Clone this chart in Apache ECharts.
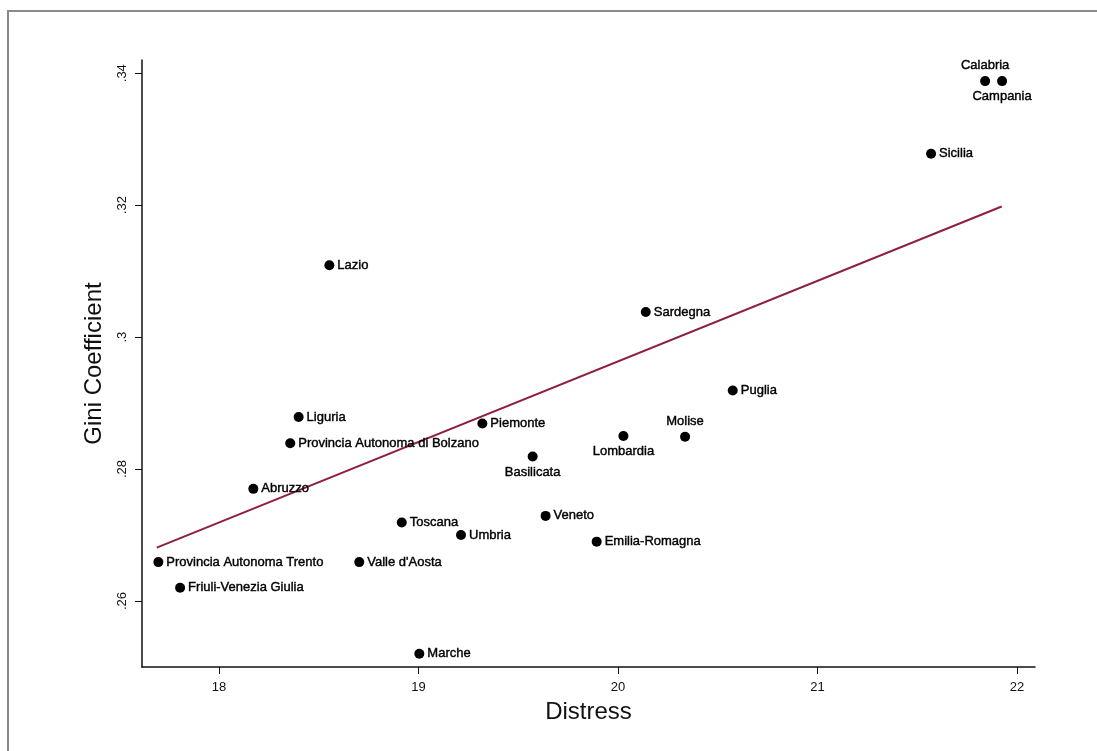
<!DOCTYPE html>
<html>
<head>
<meta charset="utf-8">
<style>
  html, body { margin: 0; padding: 0; background: #fff; }
  #chart { width: 1097px; height: 751px; }
</style>
<script src="https://cdn.jsdelivr.net/npm/echarts@6/dist/echarts.min.js"></script>
</head>
<body>
<div id="chart"></div>
<script>
var regions = ["Calabria", "Campania", "Sicilia", "Lazio", "Sardegna", "Puglia", "Molise",
  "Lombardia", "Piemonte", "Basilicata", "Veneto", "Umbria", "Emilia-Romagna", "Liguria",
  "Provincia Autonoma di Bolzano", "Abruzzo", "Toscana", "Provincia Autonoma Trento",
  "Valle d'Aosta", "Friuli-Venezia Giulia", "Marche"];
var distress = [21.84, 21.925, 21.569, 18.553, 20.139, 20.575, 20.336,
  20.027, 19.320, 19.572, 19.637, 19.213, 19.893, 18.399,
  18.357, 18.172, 18.916, 17.696,
  18.703, 17.805, 19.004];
var gini = [0.3388, 0.3388, 0.3278, 0.3109, 0.3038, 0.2919, 0.2849,
  0.2850, 0.2869, 0.2819, 0.2729, 0.2700, 0.2690, 0.2879,
  0.2839, 0.2770, 0.2719, 0.2659,
  0.2659, 0.2620, 0.2520];
// fitted line at its two ends
var fitX = [17.688, 21.923];
var fitY = [0.2681, 0.3198];
var xTicks = [18, 19, 20, 21, 22];
var yTicks = [0.26, 0.28, 0.30, 0.32, 0.34];
var yTickLabels = [".26", ".28", ".3", ".32", ".34"];

var labelTop = { "Calabria": 1, "Molise": 1 };
var labelBottom = { "Campania": 1, "Lombardia": 1, "Basilicata": 1 };

var points = regions.map(function (name, i) {
  var pos = labelTop[name] ? "top" : (labelBottom[name] ? "bottom" : "right");
  return {
    name: name,
    value: [distress[i], gini[i]],
    label: { position: pos, distance: pos === "right" ? 3 : 4 }
  };
});

var axisFont = "'Liberation Sans Narrow', 'Liberation Sans', Arial, sans-serif";

var chart = echarts.init(document.getElementById("chart"));
chart.setOption({
  animation: false,
  backgroundColor: "#fff",
  graphic: [{
    type: "rect",
    shape: { x: 8, y: 11, width: 1200, height: 900 },
    style: { fill: null, stroke: "#8a8a8a", lineWidth: 2 },
    silent: true
  }],
  grid: { left: 142, right: 62, top: 60, bottom: 84 },
  xAxis: {
    type: "value",
    min: 17.614,
    max: 22.09,
    name: "Distress",
    nameLocation: "middle",
    nameGap: 33,
    nameTextStyle: { fontSize: 24, color: "#111", fontFamily: "'Liberation Sans', Arial, sans-serif" },
    axisLine: { show: true, lineStyle: { color: "#111", width: 1.5 } },
    axisTick: { show: true, customValues: xTicks, length: 7, lineStyle: { color: "#111" } },
    axisLabel: {
      customValues: xTicks, margin: 14, fontSize: 13, color: "#111", fontFamily: axisFont
    },
    splitLine: { show: false }
  },
  yAxis: {
    type: "value",
    min: 0.25,
    max: 0.342,
    name: "Gini Coefficient",
    nameLocation: "middle",
    nameGap: 36,
    nameRotate: 90,
    nameTextStyle: { fontSize: 24, color: "#111", fontFamily: "'Liberation Sans', Arial, sans-serif" },
    axisLine: { show: true, lineStyle: { color: "#111", width: 1.5 } },
    axisTick: { show: true, customValues: yTicks, length: 7, lineStyle: { color: "#111" } },
    axisLabel: {
      customValues: yTicks, rotate: 90, margin: 13, fontSize: 13, color: "#111", fontFamily: axisFont,
      formatter: function (v) {
        for (var i = 0; i < yTicks.length; i++) {
          if (Math.abs(yTicks[i] - v) < 1e-6) return yTickLabels[i];
        }
        return "";
      }
    },
    splitLine: { show: false }
  },
  series: [
    {
      type: "line",
      data: fitX.map(function (x, i) { return [x, fitY[i]]; }),
      symbol: "none",
      lineStyle: { color: "#8e1f3e", width: 2 },
      silent: true,
      z: 1
    },
    {
      type: "scatter",
      data: points,
      symbolSize: 10,
      itemStyle: { color: "#000", opacity: 1 },
      label: {
        show: true,
        formatter: "{b}",
        fontSize: 13,
        color: "#000",
        textBorderColor: "#000",
        textBorderWidth: 0.4,
        fontFamily: "'Liberation Sans', Arial, sans-serif"
      },
      z: 3
    }
  ]
});
</script>
</body>
</html>
